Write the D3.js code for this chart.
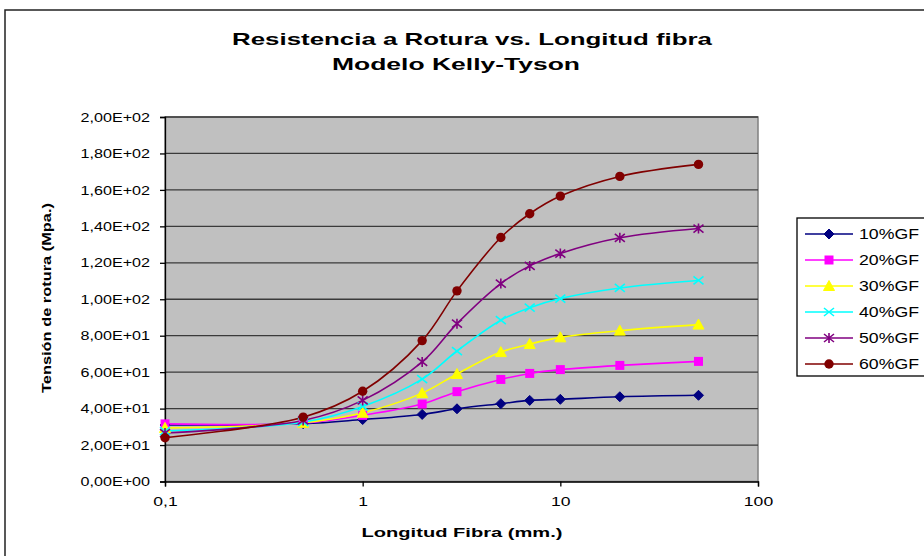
<!DOCTYPE html>
<html>
<head>
<meta charset="utf-8">
<script src="https://cdn.jsdelivr.net/npm/d3@7"></script>
<style>
  html, body { margin: 0; padding: 0; background: #fff; }
  svg { display: block; font-family: "Liberation Sans", Arial, sans-serif; }
</style>
</head>
<body>
<svg id="chart" width="924" height="556"></svg>
<script>
// ---- data ----
const xValues = [0.1, 0.5, 1, 2, 3, 5, 7, 10, 20, 50];
const seriesNames = ["10%GF", "20%GF", "30%GF", "40%GF", "50%GF", "60%GF"];
const gf10 = [31.0, 31.7, 34.0, 36.8, 39.9, 42.7, 44.5, 45.1, 46.5, 47.3];
const gf20 = [31.6, 32.0, 36.3, 42.5, 49.3, 56.0, 59.3, 61.4, 63.7, 65.9];
const gf30 = [29.4, 32.2, 37.7, 48.5, 59.0, 71.0, 75.4, 79.1, 82.8, 86.1];
const gf40 = [27.7, 32.6, 41.2, 56.2, 71.6, 88.5, 95.4, 100.4, 106.2, 110.3];
const gf50 = [26.6, 33.5, 44.5, 65.6, 86.6, 108.6, 118.3, 125.1, 133.7, 138.8];
const gf60 = [24.0, 35.3, 49.5, 77.3, 104.6, 133.9, 146.9, 156.6, 167.4, 174.0];
const yTicks = [0, 20, 40, 60, 80, 100, 120, 140, 160, 180, 200];
const yTickLabels = ["0,00E+00", "2,00E+01", "4,00E+01", "6,00E+01", "8,00E+01", "1,00E+02",
                     "1,20E+02", "1,40E+02", "1,60E+02", "1,80E+02", "2,00E+02"];
const xTicks = [0.1, 1, 10, 100];
const xTickLabels = ["0,1", "1", "10", "100"];
const titleLines = ["Resistencia a Rotura vs. Longitud fibra", "Modelo Kelly-Tyson"];
const xTitle = "Longitud Fibra (mm.)";
const yTitle = "Tensión de rotura (Mpa.)";

const allSeries = [gf10, gf20, gf30, gf40, gf50, gf60];
const colors = ["#000080", "#FF00FF", "#FFFF00", "#00FFFF", "#800080", "#800000"];
const markers = ["diamond", "square", "triangle", "x", "star", "circle"];

// ---- helpers ----
function stretch(sel, factor) {
  sel.each(function () {
    const w = this.getComputedTextLength();
    d3.select(this).attr("textLength", w * factor).attr("lengthAdjust", "spacingAndGlyphs");
  });
}
function fitWidth(sel, width) {
  sel.attr("textLength", width).attr("lengthAdjust", "spacingAndGlyphs");
}

// ---- layout ----
const svg = d3.select("#chart");
const plot = { left: 165, right: 758, top: 117, bottom: 481.5 };

const x = d3.scaleLog().domain([0.1, 100]).range([plot.left, plot.right]);
const y = d3.scaleLinear().domain([0, 200]).range([plot.bottom, plot.top]);

// outer frame
svg.append("rect").attr("x", 5).attr("y", 10).attr("width", 940).attr("height", 560)
  .attr("fill", "#fff").attr("stroke", "#222").attr("stroke-width", 1.5);

// plot background
svg.append("rect").attr("x", plot.left).attr("y", plot.top)
  .attr("width", plot.right - plot.left).attr("height", plot.bottom - plot.top)
  .attr("fill", "#C0C0C0").attr("stroke", "#808080").attr("stroke-width", 1.5);

// gridlines
svg.append("g").selectAll("line").data(yTicks.filter(d => d > 0)).join("line")
  .attr("x1", plot.left).attr("x2", plot.right)
  .attr("y1", d => y(d)).attr("y2", d => y(d))
  .attr("stroke", "#3a3a3a").attr("stroke-width", 1.3);

// y axis
const yAxis = d3.axisLeft(y).tickValues(yTicks).tickSize(5).tickPadding(10)
  .tickFormat((d, i) => yTickLabels[i]);
const gy = svg.append("g").attr("transform", `translate(${plot.left},0)`).call(yAxis);
gy.select(".domain").attr("stroke", "#000").attr("stroke-width", 1.3);
gy.selectAll(".tick line").attr("stroke", "#000").attr("stroke-width", 1.3);
gy.selectAll(".tick text").attr("font-size", 13).attr("fill", "#000")
  .attr("font-family", "Liberation Sans, Arial, sans-serif");
stretch(gy.selectAll(".tick text"), 1.24);

// x axis
const xAxis = d3.axisBottom(x).tickValues(xTicks).tickSize(5).tickPadding(10)
  .tickFormat((d, i) => xTickLabels[i]);
const gx = svg.append("g").attr("transform", `translate(0,${plot.bottom})`).call(xAxis);
gx.select(".domain").attr("stroke", "#000").attr("stroke-width", 1.3);
gx.selectAll(".tick line").attr("stroke", "#000").attr("stroke-width", 1.3);
gx.selectAll(".tick text").attr("font-size", 13.5).attr("fill", "#000")
  .attr("font-family", "Liberation Sans, Arial, sans-serif");
stretch(gx.selectAll(".tick text"), 1.3);

// marker symbol drawing
function drawMarker(g, type, color, cx, cy) {
  const s = 5;
  if (type === "diamond") {
    g.append("path").attr("d", `M${cx},${cy - s} L${cx + s},${cy} L${cx},${cy + s} L${cx - s},${cy} Z`)
      .attr("fill", color).attr("stroke", color);
  } else if (type === "square") {
    g.append("rect").attr("x", cx - 4.5).attr("y", cy - 4.5).attr("width", 9).attr("height", 9)
      .attr("fill", color);
  } else if (type === "triangle") {
    g.append("path").attr("d", `M${cx},${cy - 5.5} L${cx + 5.5},${cy + 4.5} L${cx - 5.5},${cy + 4.5} Z`)
      .attr("fill", color).attr("stroke", color);
  } else if (type === "x") {
    g.append("path").attr("d", `M${cx - 5},${cy - 4} L${cx + 5},${cy + 4} M${cx - 5},${cy + 4} L${cx + 5},${cy - 4}`)
      .attr("stroke", color).attr("stroke-width", 1.6).attr("fill", "none");
  } else if (type === "star") {
    g.append("path").attr("d", `M${cx - 5},${cy - 4} L${cx + 5},${cy + 4} M${cx - 5},${cy + 4} L${cx + 5},${cy - 4} M${cx},${cy - 5} L${cx},${cy + 5}`)
      .attr("stroke", color).attr("stroke-width", 1.6).attr("fill", "none");
  } else if (type === "circle") {
    g.append("circle").attr("cx", cx).attr("cy", cy).attr("r", 4.7).attr("fill", color);
  }
}

// lines
const line = d3.line().x(d => x(d[0])).y(d => y(d[1])).curve(d3.curveCatmullRom.alpha(0.5));
const gLines = svg.append("g");
allSeries.forEach((vals, i) => {
  const pts = xValues.map((xv, j) => [xv, vals[j]]);
  gLines.append("path").attr("d", line(pts)).attr("fill", "none")
    .attr("stroke", colors[i]).attr("stroke-width", 1.6);
});
allSeries.forEach((vals, i) => {
  const gm = svg.append("g");
  xValues.forEach((xv, j) => drawMarker(gm, markers[i], colors[i], x(xv), y(vals[j])));
});

// titles
const t1 = svg.append("text").attr("x", 472).attr("y", 45).attr("text-anchor", "middle")
  .attr("font-weight", "bold").attr("font-size", 17).attr("fill", "#000").text(titleLines[0]);
fitWidth(t1, 480);
const t2 = svg.append("text").attr("x", 456).attr("y", 70).attr("text-anchor", "middle")
  .attr("font-weight", "bold").attr("font-size", 17).attr("fill", "#000").text(titleLines[1]);
fitWidth(t2, 248);

const xt = svg.append("text").attr("x", 462).attr("y", 537).attr("text-anchor", "middle")
  .attr("font-weight", "bold").attr("font-size", 13.5).attr("fill", "#000").text(xTitle);
fitWidth(xt, 201);

const yt = svg.append("text").attr("transform", "translate(51,298) rotate(-90)").attr("text-anchor", "middle")
  .attr("font-weight", "bold").attr("font-size", 13.5).attr("fill", "#000").text(yTitle);
fitWidth(yt, 190);

// legend
const lg = svg.append("g");
lg.append("rect").attr("x", 797).attr("y", 218).attr("width", 150).attr("height", 158)
  .attr("fill", "#fff").attr("stroke", "#000").attr("stroke-width", 1.3);
seriesNames.forEach((name, i) => {
  const ly = 234 + i * 26;
  lg.append("line").attr("x1", 805).attr("x2", 853).attr("y1", ly).attr("y2", ly)
    .attr("stroke", colors[i]).attr("stroke-width", 1.6);
  drawMarker(lg, markers[i], colors[i], 829, ly);
  const lt = lg.append("text").attr("x", 859).attr("y", ly + 5).attr("font-size", 14)
    .attr("fill", "#000").text(name);
  fitWidth(lt, 60);
});
</script>
</body>
</html>
